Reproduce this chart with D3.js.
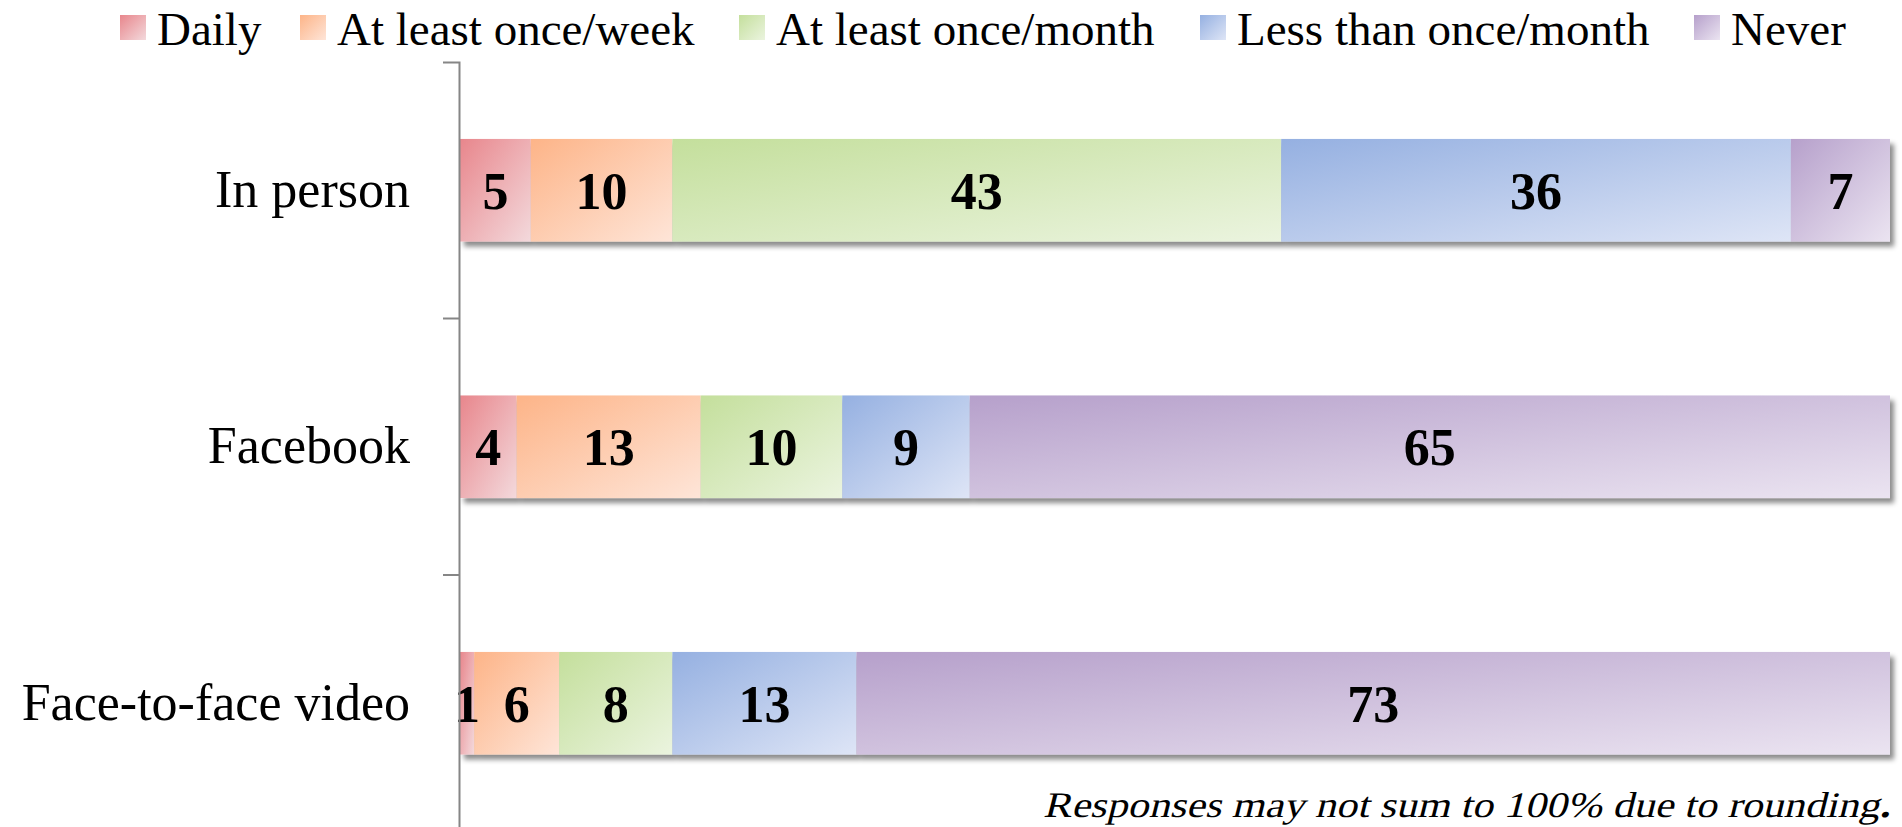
<!DOCTYPE html>
<html>
<head>
<meta charset="utf-8">
<script src="https://cdn.jsdelivr.net/npm/d3@7/dist/d3.min.js"></script>
<style>
  html, body { margin: 0; padding: 0; background: #fff; }
  svg { display: block; }
  text, tspan { font-family: "Liberation Serif", "Times New Roman", serif; fill: #000; }
</style>
</head>
<body>
<svg id="chart" width="1902" height="827"></svg>
<script>
// ---- data ----
const categories = ["In person", "Facebook", "Face-to-face video"];
const seriesNames = ["Daily", "At least once/week", "At least once/month", "Less than once/month", "Never"];
const daily       = [5, 4, 1];
const weekly      = [10, 13, 6];
const monthly     = [43, 10, 8];
const lessMonthly = [36, 9, 13];
const never       = [7, 65, 73];
const footnote = "Responses may not sum to 100% due to rounding";

// ---- styles ----
const gradStops = [
  ["#e8868c", "#f3d9dc"],
  ["#fdb488", "#fee5d8"],
  ["#c4df9c", "#ebf4df"],
  ["#95b0e1", "#dee5f6"],
  ["#b6a0cb", "#ebe4f1"]
];

const seriesArrays = [daily, weekly, monthly, lessMonthly, never];
const table = categories.map((c, i) => {
  const row = { category: c };
  seriesNames.forEach((s, j) => row[s] = seriesArrays[j][i]);
  return row;
});

const svg = d3.select("#chart");
const defs = svg.append("defs");

gradStops.forEach((st, j) => {
  const g = defs.append("linearGradient")
    .attr("id", "grad" + j)
    .attr("x1", 0).attr("y1", 0).attr("x2", 1).attr("y2", 1);
  g.append("stop").attr("offset", "0%").attr("stop-color", st[0]);
  g.append("stop").attr("offset", "100%").attr("stop-color", st[1]);
});

const shadow = defs.append("filter").attr("id", "shadow")
  .attr("x", "-5%").attr("y", "-20%").attr("width", "115%").attr("height", "150%");
shadow.append("feDropShadow")
  .attr("dx", 4).attr("dy", 5).attr("stdDeviation", 2.5)
  .attr("flood-color", "#000").attr("flood-opacity", 0.45);

const axisX = 459;
const x = d3.scaleLinear().domain([0, 1]).range([460, 1890]);
const y = d3.scaleBand().domain(categories).range([62, 831.5])
  .paddingInner(0.6).paddingOuter(0.3);

const stack = d3.stack().keys(seriesNames).offset(d3.stackOffsetExpand);
const stacked = stack(table);

// bars
const rows = svg.append("g").selectAll("g.row")
  .data(categories)
  .join("g")
  .attr("class", "row")
  .attr("filter", "url(#shadow)");

rows.each(function(cat, i) {
  const g = d3.select(this);
  stacked.forEach((layer, j) => {
    const d = layer[i];
    g.append("rect")
      .attr("x", x(d[0]))
      .attr("y", y(cat))
      .attr("width", x(d[1]) - x(d[0]))
      .attr("height", y.bandwidth())
      .attr("fill", "url(#grad" + j + ")");
  });
});

// value labels
const labels = svg.append("g");
stacked.forEach((layer, j) => {
  layer.forEach((d, i) => {
    labels.append("text")
      .attr("x", (x(d[0]) + x(d[1])) / 2)
      .attr("y", y(categories[i]) + y.bandwidth() / 2)
      .attr("dy", "0.36em")
      .attr("text-anchor", "middle")
      .attr("font-size", 52)
      .attr("font-weight", "bold")
      .text(d.data[seriesNames[j]]);
  });
});

// axis
const axis = d3.axisLeft(y).tickSize(0).tickSizeOuter(16).tickPadding(49);
const ag = svg.append("g").attr("transform", `translate(${axisX},0)`).call(axis);
ag.select(".domain").attr("stroke", "#868686").attr("stroke-width", 2);
ag.selectAll(".tick text")
  .attr("font-family", "Liberation Serif, Times New Roman, serif")
  .attr("font-size", 52)
  .attr("fill", "#000");
// boundary ticks between categories
const step = y.step();
const boundaries = categories.slice(0, -1).map(c => y(c) + y.bandwidth() + (step - y.bandwidth()) / 2);
ag.selectAll("line.bt").data(boundaries).join("line")
  .attr("class", "bt")
  .attr("x1", -16).attr("x2", 0)
  .attr("y1", d => d).attr("y2", d => d)
  .attr("stroke", "#868686").attr("stroke-width", 2);

// legend
const legendX = [120, 300, 739, 1200, 1694];
const lg = svg.append("g");
seriesNames.forEach((s, j) => {
  lg.append("rect")
    .attr("x", legendX[j]).attr("y", 15)
    .attr("width", 26).attr("height", 25)
    .attr("fill", "url(#grad" + j + ")");
  lg.append("text")
    .attr("x", legendX[j] + 37).attr("y", 45)
    .attr("font-size", 47)
    .text(s);
});

// footnote (slanted serif, stretched to the reference width)
const fn = svg.append("text")
  .attr("transform", "translate(1043,817) skewX(-14)")
  .attr("x", 0).attr("y", 0)
  .attr("text-anchor", "start")
  .attr("font-size", 36)
  .attr("textLength", 847)
  .attr("lengthAdjust", "spacingAndGlyphs");
fn.append("tspan").text(footnote);
fn.append("tspan").attr("font-weight", "bold").text(".");
</script>
</body>
</html>
